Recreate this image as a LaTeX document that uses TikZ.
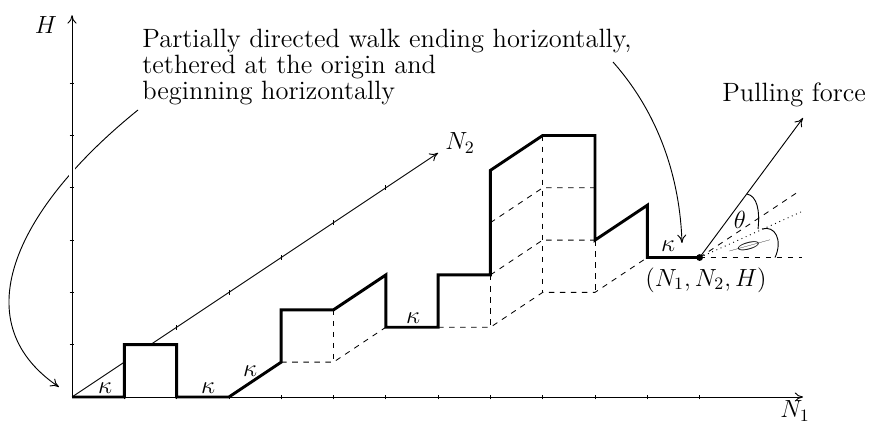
\RequirePackage{fix-cm}
\documentclass[tikz,border=0pt]{standalone}
\usepackage{fontspec}
\usetikzlibrary{arrows.meta}
\begin{document}
\begin{tikzpicture}[x={(1cm,0cm)}, y={(0cm,1cm)}, z={(1cm,0.6667cm)},
  >={Computer Modern Rightarrow[length=4.6pt,width=5pt]},
  lbl/.style={font=\fontsize{13.5}{16}\selectfont},
  txt/.style={font=\fontsize{14.4}{17}\selectfont, inner sep=0pt, anchor=base west},
  walk/.style={line width=1.6pt, line join=miter},
  grid/.style={dashed, line width=0.45pt},
  axis/.style={line width=0.5pt},
  tick/.style={line width=0.4pt}]
\useasboundingbox (-1.377,-0.554) rectangle (15.239,7.591);
% named points
\coordinate (O) at (0,0,0);
\coordinate (E) at (8,0,4);
\coordinate (Htip) at (0,7.30);
\coordinate (Ntip) at (13.98,0);
\coordinate (N2a) at (0,0,1);
\coordinate (N2b) at (0,0,1.5);
\coordinate (N2tip) at (0,0,7);
% text block
\node[txt] (t1) at (1.338,6.692) {Partially directed walk ending horizontally,};
\node[txt] (t2) at (1.338,6.176) {tethered at the origin and};
\node[txt] (t3) at (1.338,5.679) {beginning horizontally};
\coordinate (a1s) at (1.262,5.488);
\coordinate (a1e) at (-0.249,0.191);
\coordinate (a2s) at (10.344,6.405);
\coordinate (a2e) at (11.663,2.945);
\draw[axis,->] (a1s) .. controls (-0.994,3.671) and (-2.141,1.472) .. (a1e);
\draw[axis,->] (a2s) .. controls (11.243,5.392) and (11.625,4.149) .. (a2e);
% axes
\draw[axis,->,preaction={draw=white,line width=2.8pt}] (O) -- (Htip);
\draw[axis,->] (O) -- (Ntip);
\draw[axis] (O) -- (N2a);
\draw[axis,->] (N2b) -- (N2tip);
\foreach \i in {1,...,12} \draw[tick] (\i,-0.045) -- (\i,0.045);
\foreach \j in {1,...,6} \draw[tick] (-0.045,\j) -- (0.045,\j);
\foreach \k in {2,...,6} \draw[tick] (0,-0.045,\k) -- (0,0.045,\k);
% dashed projections
\draw[grid] (3,0,1) -- (4,0,1) -- (4,0,2);
\draw[grid] (4,1,1) -- (4,0,1);
\draw[grid] (5,0,2) -- (6,0,2) -- (6,0,3) -- (7,0,3) -- (7,0,4);
\draw[grid] (6,1,2) -- (6,0,2);
\draw[grid] (6,3,3) -- (6,0,3);
\draw[grid] (7,1,3) -- (7,0,3);
\draw[grid] (6,1,2) -- (6,1,3) -- (7,1,3);
\draw[grid] (6,2,2) -- (6,2,3) -- (7,2,3);
% the walk
\draw[walk] (O) -- (1,0,0) -- (1,1,0) -- (2,1,0) -- (2,0,0) -- (3,0,0) -- (3,0,1)
  -- (3,1,1) -- (4,1,1) -- (4,1,2) -- (4,0,2) -- (5,0,2) -- (5,1,2) -- (6,1,2)
  -- (6,3,2) -- (6,3,3) -- (7,3,3) -- (7,1,3) -- (7,1,4) -- (7,0,4) -- (E);
\fill (E) circle (0.065);
% force and angles
\draw[axis,->] (E) -- ++(1.977,2.668) coordinate (F);
\draw[grid] (E) -- ++(1.958,0) coordinate (Eh);
\draw[grid] (E) -- ++(1.92,1.28) coordinate (En2);
\draw[dotted, line width=0.5pt] (E) -- ++(1.977,0.889) coordinate (Ep);
\draw[axis] (12.906,3.881) .. controls (13.097,3.843) and (13.155,3.576) .. (13.117,3.212);
\draw[axis] (13.193,3.212) .. controls (13.442,3.289) and (13.595,3.002) .. (13.442,2.667);
% labels
\node[lbl] (lH) at (-0.497,7.113) {$H$};
\node[lbl] (lN2) at (7.419,4.857) {$N_2$};
\node[lbl, inner sep=0pt, anchor=base west] (lN1) at (13.537,-0.40) {$N_1$};
\node[lbl] (lE) at (12.122,2.237) {$(N_1,N_2,H)$};
\node[txt] (lF) at (12.428,5.641) {Pulling force};
\node[lbl] (k1) at (0.631,0.172) {$\kappa$};
\node[lbl] (k2) at (2.600,0.172) {$\kappa$};
\node[lbl] (k3) at (3.403,0.497) {$\kappa$};
\node[lbl] (k4) at (6.520,1.511) {$\kappa$};
\node[lbl] (k5) at (11.396,2.887) {$\kappa$};
\node[lbl] (th) at (12.772,3.384) {$\theta$};
\node[lbl, transform shape, rotate=-70, xscale=0.6, yscale=1.9] (ph) at (12.964,2.887) {$\phi$};
\end{tikzpicture}
\end{document}
